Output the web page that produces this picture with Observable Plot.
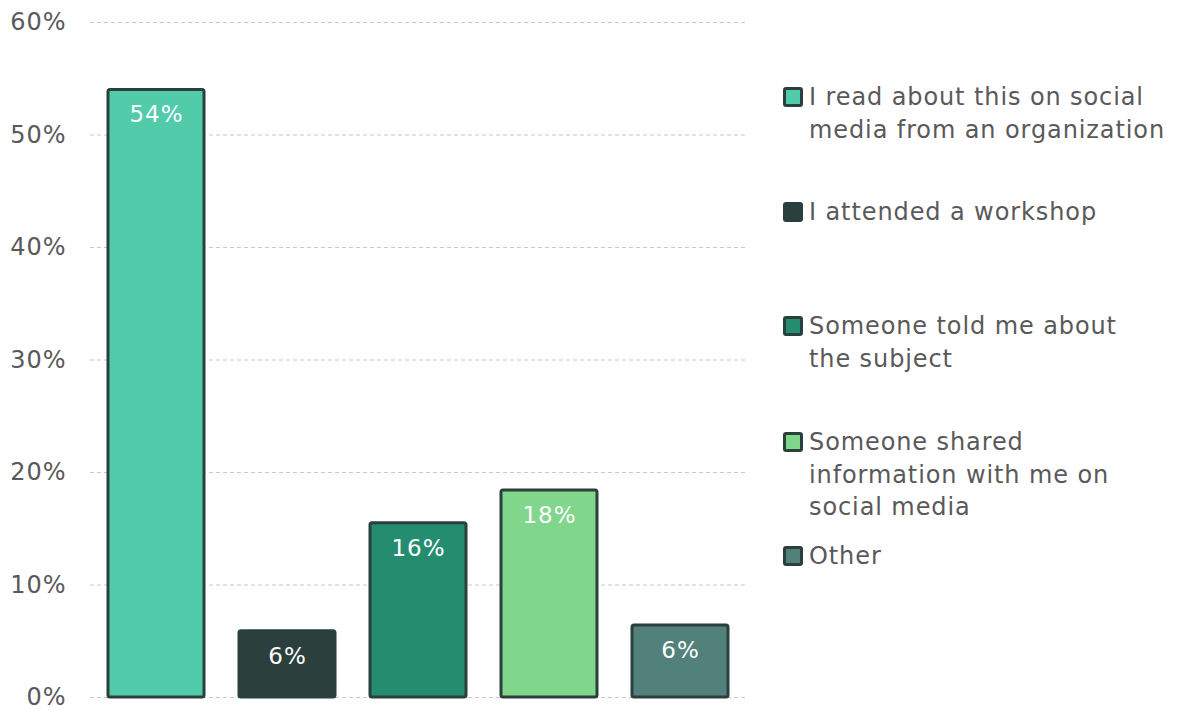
<!DOCTYPE html>
<html>
<head>
<meta charset="utf-8">
<script src="https://cdn.jsdelivr.net/npm/d3@7"></script>
<script src="https://cdn.jsdelivr.net/npm/@observablehq/plot@0.6"></script>
<style>
  html, body { margin: 0; padding: 0; background: #fff; }
  #wrap { position: relative; width: 1181px; height: 710px; font-family: "DejaVu Sans", sans-serif; }
  #chart { position: absolute; left: 0; top: 0; }
  .leg { position: absolute; left: 783px; display: flex; align-items: flex-start; color: #595959; font-size: 24px; letter-spacing: 0.9px; line-height: 32.5px; }
  .sw { width: 14px; height: 14px; border: 3px solid #2B403D; border-radius: 3px; margin-top: 6px; margin-right: 6px; flex: none; }
  .lt { white-space: pre; }
  svg text { letter-spacing: 1px; }
</style>
</head>
<body>
<div id="wrap"><div id="chart"></div></div>
<script>
const categories = [
  "I read about this on social media from an organization",
  "I attended a workshop",
  "Someone told me about the subject",
  "Someone shared information with me on social media",
  "Other"
];
const legendLabels = [
  "I read about this on social\nmedia from an organization",
  "I attended a workshop",
  "Someone told me about\nthe subject",
  "Someone shared\ninformation with me on\nsocial media",
  "Other"
];
const values = [54.0, 5.9, 15.5, 18.4, 6.4];
const colors = ["#52CBAB", "#2B403D", "#248D6F", "#80D68B", "#52807A"];
const yTicks = [0, 10, 20, 30, 40, 50, 60];
const legendTop = [81, 196, 310, 426, 540];

const data = categories.map((c, i) => ({cat: c, value: values[i], label: Math.round(values[i]) + "%"}));

const plot = Plot.plot({
  width: 760,
  height: 710,
  marginLeft: 90,
  marginRight: 14,
  marginTop: 22,
  marginBottom: 13,
  style: {fontFamily: "DejaVu Sans, sans-serif", fontSize: "24px", color: "#595959", background: "transparent"},
  x: {domain: categories, paddingInner: 0.27, paddingOuter: 0.135, axis: null},
  y: {domain: [0, 60], ticks: yTicks, tickFormat: d => d + "%", tickSize: 0, tickPadding: 24, label: null},
  color: {domain: categories, range: colors},
  marks: [
    Plot.gridY(yTicks, {stroke: "#c8c8c8", strokeOpacity: 1, strokeDasharray: "4,3", strokeWidth: 1}),
    Plot.barY(data, {x: "cat", y: "value", fill: "cat", stroke: "#2B403D", strokeWidth: 3, rx: 2}),
    Plot.text(data, {x: "cat", y: "value", text: "label", fill: "white", dy: 25, fontSize: 23, lineAnchor: "middle"})
  ]
});
plot.querySelectorAll("[aria-label='y-axis tick label'] text").forEach(t => t.setAttribute("fill", "#595959"));
document.getElementById("chart").appendChild(plot);

const wrap = document.getElementById("wrap");
categories.forEach((c, i) => {
  const d = document.createElement("div");
  d.className = "leg";
  d.style.top = legendTop[i] + "px";
  const sw = document.createElement("div");
  sw.className = "sw";
  sw.style.background = colors[i];
  const t = document.createElement("div");
  t.className = "lt";
  t.textContent = legendLabels[i];
  d.appendChild(sw); d.appendChild(t);
  wrap.appendChild(d);
});
</script>
</body>
</html>
